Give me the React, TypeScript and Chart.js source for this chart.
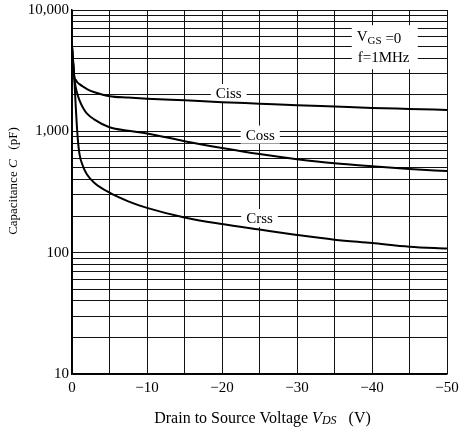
import React, { useEffect, useRef } from 'react';
import { Chart, registerables } from 'chart.js';

Chart.register(...registerables);

// ---- data ----
const voltages = [0, -0.3, -0.5, -0.75, -1, -1.5, -2, -3, -5, -7.5, -10, -15, -20, -25, -30, -35, -40, -45, -50];
const cissValues = [5000, 2800, 2650, 2520, 2450, 2330, 2230, 2100, 1950, 1900, 1860, 1800, 1740, 1690, 1640, 1600, 1560, 1530, 1500];
const cossValues = [5000, 2800, 2300, 2000, 1800, 1550, 1400, 1250, 1080, 1010, 960, 830, 730, 650, 590, 545, 515, 490, 470];
const crssValues = [5000, 2800, 1600, 900, 650, 510, 440, 375, 312, 265, 234, 195, 172, 155, 140, 128, 120, 112, 108];
const seriesNames = ['Ciss', 'Coss', 'Crss'];

const xGridValues = [0, -5, -10, -15, -20, -25, -30, -35, -40, -45, -50];
const xLabelValues = [0, -10, -20, -30, -40, -50];
const yGridValues = [
  10, 20, 30, 40, 50, 60, 70, 80, 90,
  100, 200, 300, 400, 500, 600, 700, 800, 900,
  1000, 2000, 3000, 4000, 5000, 6000, 7000, 8000, 9000, 10000,
];
const yLabelMap: Record<number, string> = { 10: '10', 100: '100', 1000: '1,000', 10000: '10,000' };

// curve-label anchors (data coordinates)
const curveLabelV = [-20.9, -25.1, -25];
const curveLabelC = [2070, 940, 193];

// condition box (data coordinates)
const condBox = { vLeft: -37.3, vRight: -46.1, cTop: 7500, cBottom: 3250 };

const SERIF = '"Liberation Serif", "DejaVu Serif", serif';

type Seg = { text: string; font: string; dy?: number };

function drawSegments(ctx: CanvasRenderingContext2D, segs: Seg[], x: number, y: number, align: 'left' | 'center') {
  let total = 0;
  for (const s of segs) {
    ctx.font = s.font;
    total += ctx.measureText(s.text).width;
  }
  let cx = align === 'center' ? x - total / 2 : x;
  ctx.textAlign = 'left';
  ctx.textBaseline = 'middle';
  for (const s of segs) {
    ctx.font = s.font;
    ctx.fillText(s.text, cx, y + (s.dy || 0));
    cx += ctx.measureText(s.text).width;
  }
}

const annotationPlugin = {
  id: 'annot',
  beforeDatasetsDraw(chart: any) {
    const ctx: CanvasRenderingContext2D = chart.ctx;
    const xs = chart.scales.x;
    const ys = chart.scales.y;
    ctx.save();
    seriesNames.forEach((name, i) => {
      const px = xs.getPixelForValue(curveLabelV[i]);
      const py = ys.getPixelForValue(curveLabelC[i]);
      ctx.font = `15px ${SERIF}`;
      const w = ctx.measureText(name).width;
      ctx.fillStyle = '#fff';
      ctx.fillRect(px - w / 2 - 5, py - 9, w + 10, 18);
      ctx.fillStyle = '#000';
      ctx.textAlign = 'center';
      ctx.textBaseline = 'middle';
      ctx.fillText(name, px, py + 1);
    });
    const bl = xs.getPixelForValue(condBox.vLeft);
    const br = xs.getPixelForValue(condBox.vRight);
    const bt = ys.getPixelForValue(condBox.cTop);
    const bb = ys.getPixelForValue(condBox.cBottom);
    ctx.fillStyle = '#fff';
    ctx.fillRect(bl, bt, br - bl, bb - bt);
    ctx.fillStyle = '#000';
    const f15 = `15px ${SERIF}`;
    const f11 = `11px ${SERIF}`;
    drawSegments(ctx, [
      { text: 'V', font: f15, dy: -2 },
      { text: 'GS', font: f11, dy: 2 },
      { text: ' =0', font: f15 },
    ], bl + 5, bt + 14, 'left');
    drawSegments(ctx, [{ text: 'f=1MHz', font: f15 }], bl + 6, bt + 33, 'left');
    ctx.restore();
  },
  afterDraw(chart: any) {
    const ctx: CanvasRenderingContext2D = chart.ctx;
    const area = chart.chartArea;
    ctx.save();
    ctx.fillStyle = '#000';
    drawSegments(ctx, [
      { text: 'Drain to Source Voltage ', font: `16px ${SERIF}` },
      { text: 'V', font: `italic 16px ${SERIF}` },
      { text: 'DS', font: `italic 12px ${SERIF}`, dy: 2 },
      { text: '   (V)', font: `16px ${SERIF}` },
    ], (area.left + area.right) / 2 + 3, 419, 'center');
    ctx.translate(14, area.top + (area.bottom - area.top) * 0.47);
    ctx.rotate(-Math.PI / 2);
    drawSegments(ctx, [
      { text: 'Capacitance ', font: `13px ${SERIF}` },
      { text: 'C', font: `italic 13px ${SERIF}` },
      { text: '   (pF)', font: `13px ${SERIF}` },
    ], 0, 0, 'center');
    ctx.restore();
  },
};

export default function App() {
  const ref = useRef<HTMLCanvasElement | null>(null);
  useEffect(() => {
    document.body.style.margin = '0';
    const canvas = ref.current;
    if (!canvas) return;
    const mk = (vals: number[]) => voltages.map((v, i) => ({ x: v, y: vals[i] }));
    const lineDs = (label: string, vals: number[]) => ({
      label,
      data: mk(vals),
      borderColor: '#000',
      borderWidth: 2,
      pointRadius: 0,
      fill: false,
      cubicInterpolationMode: 'monotone' as const,
    });
    const chart = new Chart(canvas, {
      type: 'line',
      data: {
        datasets: [
          lineDs(seriesNames[0], cissValues),
          lineDs(seriesNames[1], cossValues),
          lineDs(seriesNames[2], crssValues),
        ],
      },
      options: {
        animation: false,
        responsive: false,
        devicePixelRatio: 1,
        layout: { padding: { top: 10, right: 14, left: 0, bottom: 0 } },
        plugins: { legend: { display: false }, tooltip: { enabled: false } },
        scales: {
          x: {
            type: 'linear',
            min: -50,
            max: 0,
            reverse: true,
            afterFit: (s: any) => {
              s.height = 55;
              s.paddingLeft = 0;
              s.paddingRight = 0;
            },
            afterBuildTicks: (s: any) => { s.ticks = xGridValues.map((v) => ({ value: v })); },
            grid: { color: '#111', lineWidth: 1, drawTicks: false },
            border: { color: '#000', width: 1.5 },
            ticks: {
              autoSkip: false,
              maxRotation: 0,
              padding: 5,
              color: '#000',
              font: { family: SERIF, size: 15 },
              callback: (v: any) => {
                const n = Number(v);
                if (!xLabelValues.includes(n)) return '';
                return n === 0 ? '0' : '\u2212' + Math.abs(n);
              },
            },
          },
          y: {
            type: 'logarithmic',
            min: 10,
            max: 10000,
            afterFit: (s: any) => {
              s.width = 72;
              s.paddingTop = 0;
              s.paddingBottom = 0;
            },
            afterBuildTicks: (s: any) => { s.ticks = yGridValues.map((v) => ({ value: v })); },
            grid: { color: '#111', lineWidth: 1, drawTicks: false },
            border: { color: '#000', width: 1.5 },
            ticks: {
              autoSkip: false,
              padding: 3,
              color: '#000',
              font: { family: SERIF, size: 15 },
              callback: (v: any) => yLabelMap[Number(v)] ?? '',
            },
          },
        },
      },
      plugins: [annotationPlugin],
    });
    return () => chart.destroy();
  }, []);
  return (
    <div style={{ width: 461, height: 429 }}>
      <canvas ref={ref} width={461} height={429} />
    </div>
  );
}
